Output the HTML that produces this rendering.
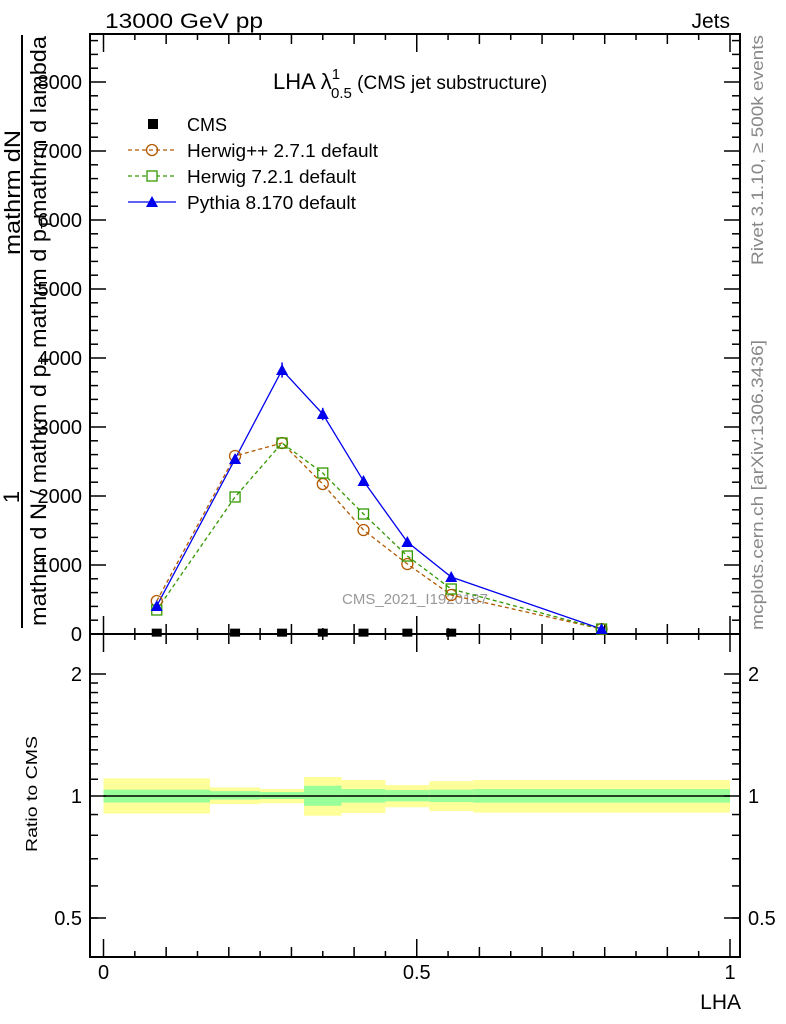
<!DOCTYPE html>
<html><head><meta charset="utf-8"><style>
body{margin:0;background:#fff;}
svg{display:block;font-family:"Liberation Sans",sans-serif;}
</style></head><body>
<svg id="c" width="786" height="1024" xmlns="http://www.w3.org/2000/svg">
<text x="105" y="28" font-size="21" textLength="158" lengthAdjust="spacingAndGlyphs">13000 GeV pp</text>
<text x="730" y="28" font-size="21" text-anchor="end">Jets</text>
<text x="273" y="89" font-size="22">LHA λ<tspan font-size="15" dy="-10">1</tspan><tspan font-size="15" dx="-9" dy="19">0.5</tspan><tspan font-size="19" dy="-9"> (CMS jet substructure)</tspan></text>
<g font-size="22">
<line x1="22" y1="35" x2="22" y2="628" stroke="#000" stroke-width="2"/>
<text transform="translate(19,497) rotate(-90)" text-anchor="middle">1</text>
<text transform="translate(20,255) rotate(-90)" textLength="125" lengthAdjust="spacingAndGlyphs">mathrm dN</text>
<text transform="translate(46,626) rotate(-90)" textLength="590" lengthAdjust="spacingAndGlyphs">mathrm d N / mathrm d p<tspan font-size="15" dy="5">T</tspan><tspan dy="-5"> mathrm d p</tspan><tspan font-size="15" dy="5">T</tspan><tspan dy="-5">mathrm d lambda</tspan></text>
</g>
<text transform="translate(763,265) rotate(-90)" font-size="17" textLength="230" lengthAdjust="spacingAndGlyphs" fill="#888">Rivet 3.1.10, ≥ 500k events</text>
<text transform="translate(763,630) rotate(-90)" font-size="17" textLength="290" lengthAdjust="spacingAndGlyphs" fill="#888">mcplots.cern.ch [arXiv:1306.3436]</text>
<text x="415" y="604" font-size="15" fill="#999" text-anchor="middle">CMS_2021_I1920187</text>
<g id="legend" font-size="18">
<g><rect x="148" y="119" width="10" height="10" fill="#000"/><text x="187" y="131">CMS</text></g>
<g><line x1="128" y1="150" x2="176" y2="150" stroke="#b35900" stroke-width="1.3" stroke-dasharray="4,3"/><circle cx="152" cy="150" r="5.5" fill="none" stroke="#b35900" stroke-width="1.3"/><text x="187" y="157" textLength="191" lengthAdjust="spacingAndGlyphs">Herwig++ 2.7.1 default</text></g>
<g><line x1="128" y1="176" x2="176" y2="176" stroke="#339900" stroke-width="1.3" stroke-dasharray="4,3"/><rect x="147" y="171" width="10" height="10" fill="#fff" stroke="#339900" stroke-width="1.3"/><text x="187" y="183" textLength="169" lengthAdjust="spacingAndGlyphs">Herwig 7.2.1 default</text></g>
<g><line x1="128" y1="202" x2="176" y2="202" stroke="#0000ee" stroke-width="1.3"/><polygon points="152,196 158,207 146,207" fill="#0000ee"/><text x="187" y="209" textLength="169" lengthAdjust="spacingAndGlyphs">Pythia 8.170 default</text></g>
</g>
<g id="plot"></g>
</svg>
<script>
const binEdges=[0,0.17,0.25,0.32,0.38,0.45,0.52,0.59,1.0];
const xMid=[0.085,0.21,0.285,0.35,0.415,0.485,0.555,0.795];
const cmsVals=[5,5,5,5,5,5,5];
const herwigppVals=[478,2580,2768,2174,1507,1014,565,72];
const herwig7Vals=[348,1986,2768,2333,1739,1130,652,72];
const pythiaVals=[406,2536,3826,3188,2217,1333,826,72];
const pythiaErr=[40,60,110,90,60,50,30,10];
const yTicks=[0,1000,2000,3000,4000,5000,6000,7000,8000];
const yTickLabels=["0","1000","2000","3000","4000","5000","6000","7000","8000"];
const ratioTicks=[0.5,1,2];
const ratioTickLabels=["0.5","1","2"];
const xTicks=[0,0.5,1];
const xTickLabels=["0","0.5","1"];
const bandYellowHi=[1.105,1.05,1.04,1.114,1.095,1.064,1.088,1.095];
const bandYellowLo=[0.905,0.955,0.96,0.894,0.908,0.938,0.918,0.91];
const bandGreenHi=[1.037,1.028,1.023,1.06,1.04,1.034,1.037,1.04];
const bandGreenLo=[0.964,0.98,0.983,0.946,0.963,0.97,0.966,0.963];

const NS="http://www.w3.org/2000/svg";
const g=document.getElementById('plot');
const L=90,R=740,T=34,MB=634,RB=957;
const X=v=>103.5+v*626.5;
const Y=v=>634-v*0.069;
const YR=v=>796-Math.log2(v)*122;
function el(t,a,p){const e=document.createElementNS(NS,t);for(const k in a)e.setAttribute(k,a[k]);(p||g).appendChild(e);return e;}

for(let i=0;i<binEdges.length-1;i++){
  const r=el('rect',{x:X(binEdges[i]),y:YR(bandYellowHi[i]),width:X(binEdges[i+1])-X(binEdges[i]),height:YR(bandYellowLo[i])-YR(bandYellowHi[i]),fill:'#ffff99'});
  
  
  const r2=el('rect',{x:X(binEdges[i]),y:YR(bandGreenHi[i]),width:X(binEdges[i+1])-X(binEdges[i]),height:YR(bandGreenLo[i])-YR(bandGreenHi[i]),fill:'#99ff99'});
  
  
}
const rl=el('line',{x1:X(0),x2:X(1),y1:YR(1),y2:YR(1),stroke:'#000','stroke-width':1.5});



const f1=el('rect',{x:L,y:T,width:R-L,height:MB-T,fill:'none',stroke:'#000','stroke-width':2});


const f2=el('rect',{x:L,y:MB,width:R-L,height:RB-MB,fill:'none',stroke:'#000','stroke-width':2});



for(let v=0;v<=8600;v+=200){
  const big=v%1000===0,len=big?16:8;
  el('line',{x1:L,x2:L+len,y1:Y(v),y2:Y(v),stroke:'#000','stroke-width':1.5});
  el('line',{x1:R,x2:R-len,y1:Y(v),y2:Y(v),stroke:'#000','stroke-width':1.5});
}
yTicks.forEach((v,i)=>{
  const t=el('text',{x:82,y:Y(v)+7,'font-size':20,'text-anchor':'end'});t.textContent=yTickLabels[i];
  
  
});
const minorR=[0.5,0.6,0.7,0.8,0.9,1.1,1.2,1.3,1.4,1.5,1.6,1.7,1.8,1.9];
minorR.forEach(v=>{el('line',{x1:L,x2:L+8,y1:YR(v),y2:YR(v),stroke:'#000','stroke-width':1.5});el('line',{x1:R,x2:R-8,y1:YR(v),y2:YR(v),stroke:'#000','stroke-width':1.5});});
ratioTicks.forEach((v,i)=>{
  el('line',{x1:L,x2:L+16,y1:YR(v),y2:YR(v),stroke:'#000','stroke-width':1.5});
  el('line',{x1:R,x2:R-16,y1:YR(v),y2:YR(v),stroke:'#000','stroke-width':1.5});
  const t=el('text',{x:82,y:YR(v)+7,'font-size':20,'text-anchor':'end'});t.textContent=ratioTickLabels[i];
  
  
  const t2=el('text',{x:748,y:YR(v)+7,'font-size':20});t2.textContent=ratioTickLabels[i];
  
  
});
const rt=el('text',{transform:'translate(37,852) rotate(-90)','font-size':16,textLength:116,lengthAdjust:'spacingAndGlyphs'});rt.textContent='Ratio to CMS';


for(let k=0;k<=20;k++){
  const v=k*0.05,len=k%10===0?18:(k%2===0?10:6);
  el('line',{x1:X(v),x2:X(v),y1:MB,y2:MB+len,stroke:'#000','stroke-width':1.5});
  el('line',{x1:X(v),x2:X(v),y1:MB,y2:MB-len,stroke:'#000','stroke-width':1.5});
  el('line',{x1:X(v),x2:X(v),y1:RB,y2:RB-len,stroke:'#000','stroke-width':1.5});
  el('line',{x1:X(v),x2:X(v),y1:T,y2:T+len,stroke:'#000','stroke-width':1.5});
}
xTicks.forEach((v,i)=>{
  const t=el('text',{x:X(v),y:979,'font-size':20,'text-anchor':'middle'});t.textContent=xTickLabels[i];
  
  
});
const xt=el('text',{x:741,y:1009,'font-size':21,'text-anchor':'end'});xt.textContent='LHA';



function series(vals,color,dash,name){
  const pts=vals.map((v,i)=>X(xMid[i])+','+Y(v)).join(' ');
  const p=el('polyline',{points:pts,fill:'none',stroke:color,'stroke-width':1.3});
  if(dash)p.setAttribute('stroke-dasharray','4,3');
  
  
}
series(herwigppVals,'#b35900',true,'herwigpp');
series(herwig7Vals,'#339900',true,'herwig7');
series(pythiaVals,'#0000ee',false,'pythia');
herwigppVals.forEach((v,i)=>{
  const c=el('circle',{cx:X(xMid[i]),cy:Y(v),r:5.5,fill:'none',stroke:'#b35900','stroke-width':1.3});
  
  
});
herwig7Vals.forEach((v,i)=>{
  const c=el('rect',{x:X(xMid[i])-5,y:Y(v)-5,width:10,height:10,fill:'none',stroke:'#339900','stroke-width':1.3});
  
  
});
pythiaVals.forEach((v,i)=>{
  const x=X(xMid[i]),y=Y(v);
  el('line',{x1:x,x2:x,y1:Y(v+pythiaErr[i]),y2:Y(v-pythiaErr[i]),stroke:'#0000ee','stroke-width':1.5});
  const c=el('polygon',{points:`${x},${y-6} ${x+6},${y+5} ${x-6},${y+5}`,fill:'#0000ee'});
  
  
});
cmsVals.forEach((v,i)=>{
  const c=el('rect',{x:X(xMid[i])-5,y:Y(v)-5,width:10,height:8,fill:'#000'});
  
  
});
</script>
</body></html>
